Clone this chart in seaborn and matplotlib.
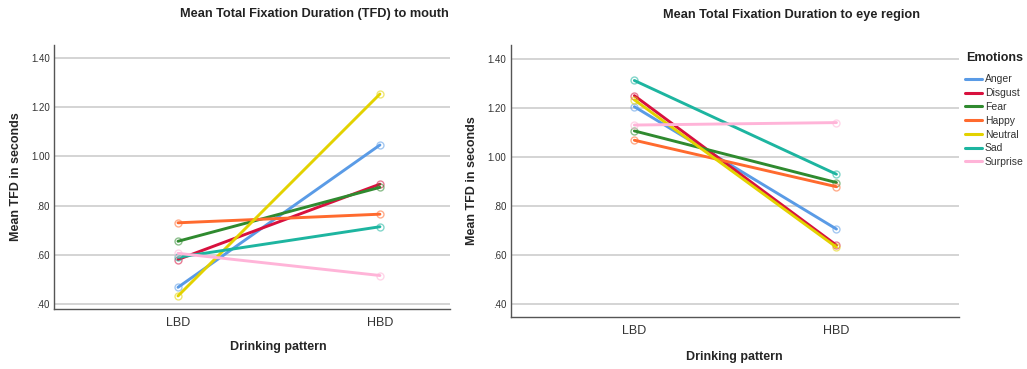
import matplotlib
matplotlib.use("Agg")
import matplotlib.pyplot as plt
import seaborn as sns
import pandas as pd
from matplotlib.lines import Line2D

sns.set_style("white")
plt.rcParams["font.family"] = ["Liberation Sans", "DejaVu Sans"]

patterns = ["LBD", "HBD"]
emotions = ["Anger", "Disgust", "Fear", "Happy", "Neutral", "Sad", "Surprise"]

# Mean TFD (seconds) per emotion: [LBD, HBD]
mouth_lbd = [0.468, 0.581, 0.655, 0.730, 0.433, 0.590, 0.606]
mouth_hbd = [1.046, 0.887, 0.874, 0.765, 1.253, 0.714, 0.516]
eye_lbd = [1.206, 1.251, 1.107, 1.069, 1.234, 1.313, 1.131]
eye_hbd = [0.706, 0.640, 0.896, 0.879, 0.632, 0.930, 1.141]

yticks = [0.40, 0.60, 0.80, 1.00, 1.20, 1.40]
ytick_labels = [".40", ".60", ".80", "1.00", "1.20", "1.40"]

colors = ["#5a9be6", "#d8113e", "#2f8a2f", "#ff6a2e", "#e3d200", "#1db5a0", "#ffb4d8"]
palette = dict(zip(emotions, colors))


def long_frame(lbd, hbd):
    rows = []
    for e, a, b in zip(emotions, lbd, hbd):
        rows.append({"Emotions": e, "pattern": "LBD", "x": 0, "TFD": a})
        rows.append({"Emotions": e, "pattern": "HBD", "x": 1, "TFD": b})
    return pd.DataFrame(rows)


W, H = 1027, 369
fig = plt.figure(figsize=(W / 100, H / 100), dpi=100)
ax1 = fig.add_axes([54 / W, (H - 309) / H, (450 - 54) / W, (309 - 45) / H])
ax2 = fig.add_axes([510.7 / W, (H - 316.7) / H, (958.7 - 510.7) / W, (316.7 - 45) / H])

panels = [
    # axes, data, title, xlim, ylim, title (x, y) px, xlabel coords, ylabel x
    (ax1, long_frame(mouth_lbd, mouth_hbd), "Mean Total Fixation Duration (TFD) to mouth",
     (-0.614, 1.347), (0.38, 1.452), (180, 14), (0.5657, -0.1428), -0.097),
    (ax2, long_frame(eye_lbd, eye_hbd), "Mean Total Fixation Duration to eye region",
     (-0.612, 1.605), (0.348, 1.458), (663, 15), (0.5, -0.147), -0.0864),
]

for ax, df, title, xlim, ylim, tpos, xl, ylx in panels:
    for y in yticks:
        ax.axhline(y, color="#d4d4d4", lw=1.4, zorder=0)
    sns.lineplot(data=df, x="x", y="TFD", hue="Emotions", palette=palette,
                 hue_order=emotions, lw=2.1, legend=False, ax=ax,
                 marker="o", markersize=5, markerfacecolor="none",
                 markeredgewidth=1.0)
    for line in ax.get_lines():
        c = line.get_color()
        line.set_markeredgecolor(matplotlib.colors.to_rgba(c, 0.55))
    ax.set_xlim(*xlim)
    ax.set_ylim(*ylim)
    ax.set_xticks([0, 1])
    ax.set_xticklabels(patterns, fontsize=9, color="#333333")
    ax.set_yticks(yticks)
    ax.set_yticklabels(ytick_labels, fontsize=7, color="#333333")
    ax.tick_params(axis="x", length=0, pad=6)
    ax.tick_params(axis="y", length=0, pad=3)
    for s in ["top", "right"]:
        ax.spines[s].set_visible(False)
    for s in ["left", "bottom"]:
        ax.spines[s].set_color("#555555")
        ax.spines[s].set_linewidth(1.0)
    ax.set_xlabel("Drinking pattern", fontsize=9, fontweight="bold", va="center")
    ax.xaxis.set_label_coords(*xl)
    ax.set_ylabel("Mean TFD in seconds", fontsize=9, fontweight="bold", va="center")
    ax.yaxis.set_label_coords(ylx, 0.5)
    fig.text(tpos[0] / W, 1 - tpos[1] / H, title, ha="left", va="center",
             fontsize=9.2, fontweight="bold", color="#222222")

fig.text(966 / W, 1 - 58 / H, "Emotions", ha="left", va="center",
         fontsize=9, fontweight="bold", color="#222222")
handles = [Line2D([0], [0], color=c, lw=2.2) for c in colors]
fig.legend(handles, emotions, loc="upper left",
           bbox_to_anchor=(965 / W, 1 - 74.5 / H), frameon=False,
           fontsize=7.5, handlelength=1.6, handletextpad=0.3,
           labelspacing=0.36, borderpad=0, borderaxespad=0,
           labelcolor="#333333")

fig.savefig("out.png", dpi=100)
